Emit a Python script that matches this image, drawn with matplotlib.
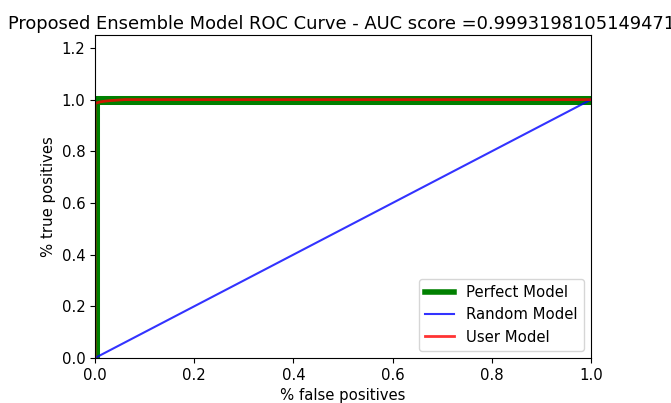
import matplotlib
matplotlib.use('Agg')
import matplotlib.pyplot as plt

# ROC points
perfect_fpr = [0.0, 0.0, 1.0]
perfect_tpr = [0.0, 1.0, 1.0]

random_fpr = [0.0, 1.0]
random_tpr = [0.0, 1.0]

user_fpr = [0.0, 0.0, 0.005, 0.01, 0.02, 0.03, 0.045, 0.06, 1.0]
user_tpr = [0.0, 0.986, 0.988, 0.991, 0.994, 0.996, 0.998, 1.0, 1.0]

auc_score = '0.9993198105149471'

plt.rcParams['font.size'] = 10.7

fig = plt.figure(figsize=(6.71, 4.03), dpi=100)
ax = fig.add_axes([95 / 671, 45 / 403, 496 / 671, 323 / 403])

ax.plot(perfect_fpr, perfect_tpr, color='green', linewidth=6.5, label='Perfect Model')
ax.plot(random_fpr, random_tpr, color='blue', alpha=0.8, linewidth=1.5, label='Random Model')
ax.plot(user_fpr, user_tpr, color='red', alpha=0.8, linewidth=2, label='User Model')

ax.set_xlim(0, 1)
ax.set_ylim(0, 1.25)
ax.set_xlabel('% false positives')
ax.set_ylabel('% true positives')
# the original title runs off the right edge, so pin its left end instead
ax.set_title('Proposed Ensemble Model ROC Curve - AUC score =' + auc_score,
             loc='left', x=(8 - 95) / 496, fontsize=12.85, pad=4)

leg = ax.legend(loc='lower right')
leg.get_lines()[0].set_linewidth(4)

fig.savefig('out.png', dpi=100)
